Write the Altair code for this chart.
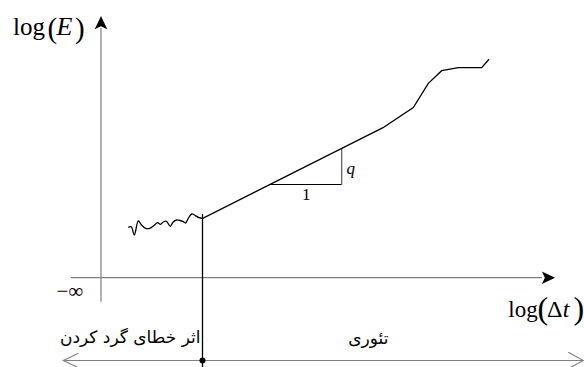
import altair as alt
import pandas as pd

W, H = 584, 367

# Round-off dominated region: noisy error estimate
noise_t = [128.3, 131.2, 134.3, 138.3, 141.3, 145.5, 149.7, 154.0, 157.5, 160.5, 163.3, 166.5,
           170.3, 173.0, 176.5, 180.0, 183.3, 185.5, 188.3, 191.7, 195.0, 199.0, 202.7]
noise_e = [139.7, 140.3, 132.0, 146.2, 142.3, 138.7, 138.7, 141.5, 144.4, 142.7, 145.0, 145.7,
           140.7, 144.8, 147.0, 146.5, 145.3, 144.0, 148.7, 153.0, 151.7, 149.3, 148.7]

# Theory region: straight line of slope q, then bending up and levelling off
theory_t = [202.7, 383.0, 413.3, 428.3, 441.7, 458.3, 481.7, 489.0]
theory_e = [148.7, 239.3, 259.5, 283.7, 296.3, 299.3, 299.3, 307.7]

# Slope triangle (run 1, rise q)
tri_t = [269.3, 341.7, 341.7]
tri_e = [182.5, 182.5, 218.5]

# Axes
x_axis = dict(t=71.0, t2=542.0, e=89.3)
y_axis = dict(t=101.0, e=65.3, e2=339.0)
split_t = 202.5          # boundary between the two regions
band_e = 6.5             # level of the region double arrow
band_t = (63.3, 583.3)

SERIF = "Liberation Serif, Times New Roman, serif"

xs = alt.Scale(domain=[0, W], nice=False, zero=False)
ys = alt.Scale(domain=[0, H], nice=False, zero=False)


def X(f="t"):
    return alt.X(f"{f}:Q", scale=xs, axis=None)


def Y(f="e"):
    return alt.Y(f"{f}:Q", scale=ys, axis=None)


def curve(ts, es, color="black", width=1.3, interp="linear"):
    df = pd.DataFrame({"t": ts, "e": es, "i": range(len(ts))})
    return alt.Chart(df).mark_line(color=color, strokeWidth=width, interpolate=interp).encode(
        x=X(), y=Y(), order="i:Q")


axis_gray = "#808080"

axes = alt.Chart(pd.DataFrame([
    {"t": x_axis["t"], "t2": x_axis["t2"], "e": x_axis["e"], "e2": x_axis["e"]},
    {"t": y_axis["t"], "t2": y_axis["t"], "e": y_axis["e"], "e2": y_axis["e2"]},
    {"t": band_t[0], "t2": band_t[1], "e": band_e, "e2": band_e},
])).mark_rule(color=axis_gray, strokeWidth=1.2).encode(
    x=X(), x2=alt.X2("t2"), y=Y(), y2=alt.Y2("e2"))

divider = alt.Chart(pd.DataFrame([{"t": split_t, "e": 0, "e2": 153}])).mark_rule(
    color="black", strokeWidth=1.3).encode(x=X(), y=Y(), y2=alt.Y2("e2"))

arrow_path = "M1,0L-1,-0.95L-0.55,0L-1,0.95Z"
heads = alt.Chart(pd.DataFrame([
    {"t": 548.5, "e": x_axis["e"], "a": 0},
    {"t": y_axis["t"], "e": 344.3, "a": 270},
])).mark_point(shape=arrow_path, filled=True, size=175, color="black", opacity=1).encode(
    x=X(), y=Y(), angle=alt.Angle("a:Q", scale=None))

chev = pd.DataFrame([
    {"t": 78.3, "e": 13.7, "g": "l", "i": 0},
    {"t": 63.3, "e": 6.5, "g": "l", "i": 1},
    {"t": 78.3, "e": -0.7, "g": "l", "i": 2},
    {"t": 568.3, "e": 14.7, "g": "r", "i": 0},
    {"t": 583.3, "e": 6.5, "g": "r", "i": 1},
    {"t": 568.3, "e": -1.7, "g": "r", "i": 2},
])
chevrons = alt.Chart(chev).mark_line(color=axis_gray, strokeWidth=1.1).encode(
    x=X(), y=Y(), detail="g:N", order="i:Q")

dot = alt.Chart(pd.DataFrame([{"t": split_t, "e": band_e}])).mark_circle(
    color="black", size=36, opacity=1).encode(x=X(), y=Y())

tri_h = alt.Chart(pd.DataFrame([{"t": tri_t[0], "t2": tri_t[1], "e": tri_e[0]}])).mark_rule(
    color="black", strokeWidth=1.2).encode(x=X(), x2=alt.X2("t2"), y=Y())
tri_v = alt.Chart(pd.DataFrame([{"t": tri_t[1], "e": tri_e[1], "e2": tri_e[2]}])).mark_rule(
    color="#555555", strokeWidth=1.2).encode(x=X(), y=Y(), y2=alt.Y2("e2"))


def label(rows, font=SERIF, style="normal", align="left"):
    df = pd.DataFrame(rows, columns=["t", "e", "s", "size"])
    return alt.Chart(df).mark_text(font=font, fontStyle=style, align=align,
                                   baseline="alphabetic", color="black").encode(
        x=X(), y=Y(), text="s:N", size=alt.Size("size:Q", scale=None, legend=None))


serif_up = label([
    (13.0, 332.0, "log", 25), (47.5, 329.0, "(", 29), (75.0, 329.0, ")", 29),
    (508.3, 50.3, "log", 23), (537.5, 48.5, "(", 32), (547.0, 50.3, "\u0394", 24),
    (573.5, 48.5, ")", 32),
    (302.0, 167.0, "1", 17),
    (56.5, 69.5, "\u2212\u221e", 21),
])
serif_it = label([
    (56.5, 332.0, "E", 26), (562.7, 50.3, "t", 24), (346.5, 193.5, "q", 17),
], style="italic")

persian = label([
    (200.5, 24.3, "اثر خطای گرد کردن", 17),
], font="DejaVu Sans", align="right")
persian_c = label([
    (368.3, 23.5, "تئوری", 17),
], font="DejaVu Sans", align="center")

chart = alt.layer(
    axes, divider, chevrons, tri_h, tri_v,
    curve(noise_t, noise_e, interp="catmull-rom"), curve(theory_t, theory_e),
    heads, dot, serif_up, serif_it, persian, persian_c,
).properties(width=W, height=H, padding=0, autosize="none").configure_view(stroke=None)

chart.save("out.html", embed_options={"renderer": "svg", "actions": False})
